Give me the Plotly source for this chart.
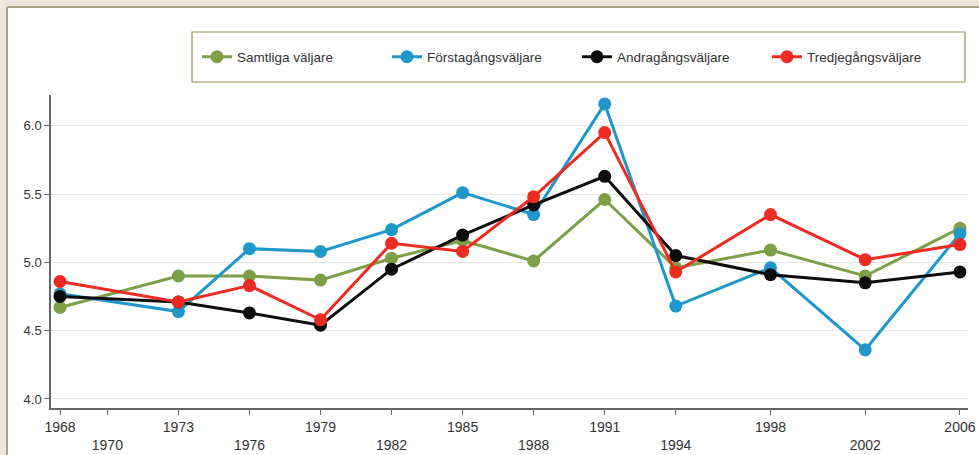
import plotly.graph_objects as go

years = [1968, 1973, 1976, 1979, 1982, 1985, 1988, 1991, 1994, 1998, 2002, 2006]
samtliga = [4.67, 4.90, 4.90, 4.87, 5.03, 5.16, 5.01, 5.46, 4.96, 5.09, 4.90, 5.25]
forsta = [4.77, 4.64, 5.10, 5.08, 5.24, 5.51, 5.35, 6.16, 4.68, 4.96, 4.36, 5.21]
andra = [4.75, 4.71, 4.63, 4.54, 4.95, 5.20, 5.42, 5.63, 5.05, 4.91, 4.85, 4.93]
tredje = [4.86, 4.71, 4.83, 4.58, 5.14, 5.08, 5.48, 5.95, 4.93, 5.35, 5.02, 5.13]

tick_years = [1968, 1970, 1973, 1976, 1979, 1982, 1985, 1988, 1991, 1994, 1998, 2002, 2006]
y_ticks = [4.0, 4.5, 5.0, 5.5, 6.0]

series = [
    ("Samtliga väljare", samtliga, "#7c9f48"),
    ("Förstagångsväljare", forsta, "#1f97cb"),
    ("Andragångsväljare", andra, "#0d0d0d"),
    ("Tredjegångsväljare", tredje, "#ee2b22"),
]

W, H = 979, 455
ML, MR, MT, MB = 51, 11, 95, 47
PW, PH = W - ML - MR, H - MT - MB


def px(x):
    return (x - ML) / PW


def py(y):
    return 1 - (y - MT) / PH


fig = go.Figure()
for name, vals, col in series:
    fig.add_trace(go.Scatter(
        x=years, y=vals, name=name, mode="lines+markers",
        line=dict(color=col, width=3),
        marker=dict(color=col, size=13),
    ))

ticktext = []
for i, t in enumerate(tick_years):
    ticktext.append(str(t) if i % 2 == 0 else "<br>" + str(t))

beige = "#ece9dc"
border = "#a7a384"
fig.update_layout(
    width=W, height=H,
    margin=dict(l=ML, r=MR, t=MT, b=MB, autoexpand=False),
    paper_bgcolor="white",
    plot_bgcolor="rgba(0,0,0,0)",
    font=dict(family="Liberation Sans, Arial, sans-serif", size=13, color="#333333"),
    showlegend=True,
    legend=dict(
        orientation="h", x=px(197), y=py(57), xanchor="left", yanchor="middle",
        bgcolor="rgba(0,0,0,0)", borderwidth=0,
        font=dict(size=13.5, color="#333333"),
        entrywidth=145, entrywidthmode="pixels", itemwidth=30,
    ),
    shapes=[
        dict(type="rect", xref="paper", yref="paper", x0=px(0), x1=px(W), y0=py(7), y1=py(0),
             fillcolor=beige, line=dict(width=0), layer="below"),
        dict(type="rect", xref="paper", yref="paper", x0=px(0), x1=px(7), y0=py(H), y1=py(0),
             fillcolor=beige, line=dict(width=0), layer="below"),
        dict(type="line", xref="paper", yref="paper", x0=px(7), x1=px(W), y0=py(7), y1=py(7),
             line=dict(color=border, width=2)),
        dict(type="line", xref="paper", yref="paper", x0=px(7), x1=px(7), y0=py(7), y1=py(H),
             line=dict(color=border, width=2)),
        dict(type="rect", xref="paper", yref="paper", x0=px(192), x1=px(965), y0=py(82), y1=py(32),
             fillcolor="rgba(0,0,0,0)", line=dict(color="#9a8f55", width=1.2)),
    ],
)

fig.update_xaxes(
    range=[1967.62, 2006.34], tickvals=tick_years, ticktext=ticktext, automargin=False,
    showgrid=False, zeroline=False, showline=True, linecolor="#666666", linewidth=1.5,
    ticks="outside", ticklen=5, tickcolor="#666666",
    tickfont=dict(size=14, color="#333333"),
)
fig.update_yaxes(
    range=[3.934, 6.225], tickvals=y_ticks, ticktext=[f"{v:.1f}" for v in y_ticks], automargin=False,
    showgrid=True, gridcolor="#e6e6e6", gridwidth=1, zeroline=False,
    showline=True, linecolor="#666666", linewidth=1.5,
    ticks="outside", ticklen=5, tickcolor="#666666",
    tickfont=dict(size=13, color="#333333"),
)

fig.write_html(
    "out.html",
    config={"displayModeBar": False},
    post_script="document.body.style.margin='0';document.body.style.overflow='hidden';",
)
